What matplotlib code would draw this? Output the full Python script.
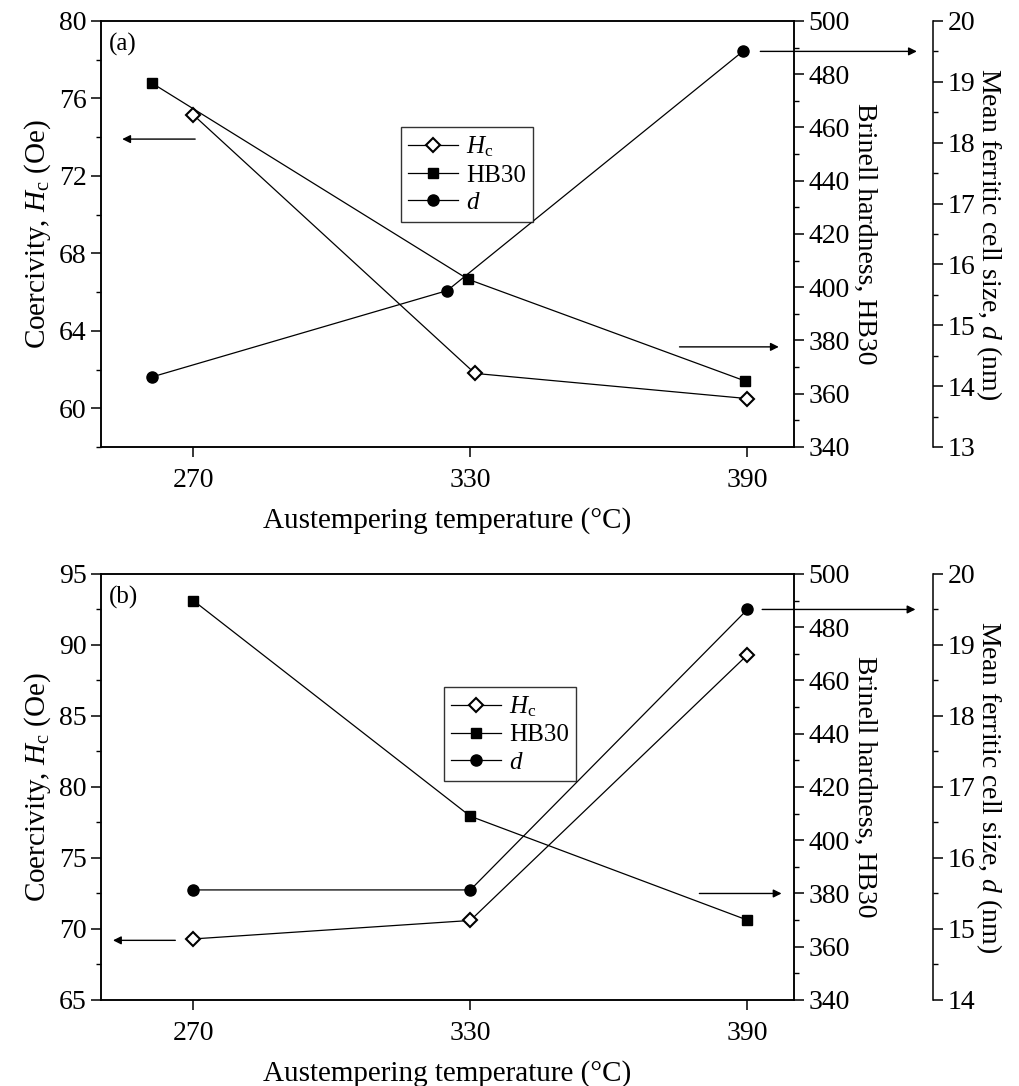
import numpy as np
import matplotlib.pyplot as plt
from matplotlib.ticker import MultipleLocator

plt.rcParams['font.family'] = ['Liberation Serif', 'DejaVu Serif']
plt.rcParams['mathtext.fontset'] = 'custom'
plt.rcParams['mathtext.rm'] = 'Liberation Serif'
plt.rcParams['mathtext.it'] = 'Liberation Serif:italic'
plt.rcParams['axes.linewidth'] = 1.1

# panel (a) data
ta_hc = [270, 331, 390]
hc_a = [75.15, 61.8, 60.5]
ta_hb = [261, 329.5, 389.5]
hb_a = [476.7, 403, 364.8]
ta_d = [261, 325, 389]
d_a = [14.15, 15.57, 19.5]

# panel (b) data
tb = [270, 330, 390]
hc_b = [69.3, 70.6, 89.3]
hb_b = [490, 409, 370]
d_b = [15.55, 15.55, 19.5]

xticks = [270, 330, 390]


def estilo(ax, mayor, menor, lado):
    ax.yaxis.set_major_locator(MultipleLocator(mayor))
    ax.yaxis.set_minor_locator(MultipleLocator(menor))
    ax.tick_params(axis='y', which='major', direction='out', length=7, width=1.1, labelsize=20)
    ax.tick_params(axis='y', which='minor', direction='out', length=3.5, width=1.0)
    if lado == 'right':
        ax.yaxis.set_ticks_position('right')


def panel(fig, rect, t1, hc, t2, hb, t3, d, lim_hc, paso_hc, lim_d, letra, leg_pos, flechas):
    ax = fig.add_axes(rect)
    ax2 = ax.twinx()
    ax3 = ax.twinx()
    ax3.spines['right'].set_position(('axes', 1.202))
    for s in ['top', 'bottom', 'left']:
        ax3.spines[s].set_visible(False)

    l1, = ax.plot(t1, hc, '-', color='black', lw=0.9, marker='D', ms=7.5,
                  mfc='white', mec='black', mew=1.5)
    l2, = ax2.plot(t2, hb, '-', color='black', lw=0.9, marker='s', ms=7,
                   mfc='black', mec='black')
    l3, = ax3.plot(t3, d, '-', color='black', lw=0.9, marker='o', ms=8,
                   mfc='black', mec='black')

    ax.set_xlim(250, 400)
    ax.set_xticks(xticks)
    ax.tick_params(axis='x', direction='out', length=7, width=1.1, labelsize=20, pad=8)
    ax.set_ylim(*lim_hc)
    ax2.set_ylim(340, 500)
    ax3.set_ylim(*lim_d)
    estilo(ax, paso_hc, paso_hc / 2, 'left')
    estilo(ax2, 20, 10, 'right')
    estilo(ax3, 1, 0.5, 'right')

    ax.set_xlabel('Austempering temperature (°C)', fontsize=21, labelpad=10)
    ax.set_ylabel('Coercivity, $H_\\mathrm{c}$ (Oe)', fontsize=21, labelpad=4)
    ax2.set_ylabel('Brinell hardness, HB30', fontsize=20, rotation=270, labelpad=20)
    ax3.set_ylabel('Mean ferritic cell size, $d$ (nm)', fontsize=20, rotation=270, labelpad=20)

    ax.text(0.012, 0.945, letra, transform=ax.transAxes, fontsize=18, va='center')

    leg = ax3.legend([l1, l2, l3], ['$H_\\mathrm{c}$', 'HB30', '$d$'],
                     loc='upper left', bbox_to_anchor=leg_pos, bbox_transform=ax.transAxes,
                     fontsize=18, frameon=True, fancybox=False, edgecolor='black',
                     handlelength=2.0, handletextpad=0.3, borderpad=0.3,
                     labelspacing=0.2, borderaxespad=0)
    leg.get_frame().set_linewidth(1.0)

    # flechas que indican el eje de cada curva
    props = dict(arrowstyle='-|>', color='black', lw=1.0, mutation_scale=12)
    for eje, (x0, x1, y) in zip([ax, ax2, ax3], flechas):
        eje.annotate('', xy=(x1, y), xytext=(x0, y), arrowprops=props,
                     annotation_clip=False)
    return ax


fig = plt.figure(figsize=(10.2, 10.86), dpi=100)

panel(fig, [0.099, 0.5884, 0.679, 0.3923], ta_hc, hc_a, ta_hb, hb_a, ta_d, d_a,
      (58, 80), 4, (13, 20), '(a)', (0.433, 0.751),
      [(271, 254, 73.9), (374.7, 397.4, 377.6), (392.2, 427.3, 19.5)])

panel(fig, [0.099, 0.0792, 0.679, 0.3923], tb, hc_b, tb, hb_b, tb, d_b,
      (65, 95), 5, (14, 20), '(b)', (0.495, 0.735),
      [(266.7, 252, 69.2), (379, 398, 380), (392.6, 427, 19.5)])

fig.savefig('out.png', dpi=100)
